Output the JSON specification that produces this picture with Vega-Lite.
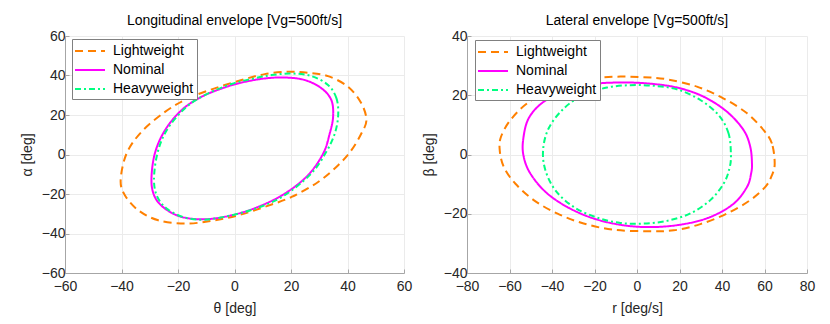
{
  "$schema": "https://vega.github.io/schema/vega-lite/v6.json",
  "padding": {"left": 20, "top": 14, "right": 5, "bottom": 5},
  "background": "white",
  "config": {
    "font": "Liberation Sans",
    "view": {"stroke": null},
    "axis": {
      "labelFont": "Liberation Sans", "labelFontSize": 14, "labelColor": "#262626", "labelFlush": false, "labelOverlap": false,
      "titleFont": "Liberation Sans", "titleFontSize": 14, "titleFontWeight": "normal", "titleColor": "#262626",
      "domainColor": "#a6a6a6", "tickColor": "#a6a6a6", "tickSize": -4,
      "gridColor": "#ebebeb", "gridOpacity": 1, "labelPadding": 4, "titlePadding": 7
    },
    "axisX": {"labelPadding": 10, "titlePadding": 8},
    "title": {"font": "Liberation Sans", "fontSize": 14, "fontWeight": "normal", "color": "#000000", "offset": 1},
    "legend": {
      "labelFont": "Liberation Sans", "labelFontSize": 14, "labelColor": "#000000",
      "strokeColor": "#808080", "fillColor": "white", "padding": 3, "rowPadding": 3,
      "symbolType": "M-1.875,0H1.875", "symbolSize": 256, "symbolStrokeWidth": 2, "symbolOffset": 6, "labelOffset": 14
    },
    "concat": {"spacing": 10}
  },
  "datasets": {
    "lon": [
      {"s": "Lightweight", "i": 0, "x": 46.7, "y": 17.4},
      {"s": "Lightweight", "i": 1, "x": 44.9, "y": 25.9},
      {"s": "Lightweight", "i": 2, "x": 40.2, "y": 34.3},
      {"s": "Lightweight", "i": 3, "x": 33.1, "y": 39.7},
      {"s": "Lightweight", "i": 4, "x": 26.0, "y": 41.4},
      {"s": "Lightweight", "i": 5, "x": 19.0, "y": 41.9},
      {"s": "Lightweight", "i": 6, "x": 10.7, "y": 40.7},
      {"s": "Lightweight", "i": 7, "x": 2.5, "y": 37.7},
      {"s": "Lightweight", "i": 8, "x": -7.0, "y": 33.5},
      {"s": "Lightweight", "i": 9, "x": -16.4, "y": 28.4},
      {"s": "Lightweight", "i": 10, "x": -24.6, "y": 21.6},
      {"s": "Lightweight", "i": 11, "x": -32.9, "y": 11.5},
      {"s": "Lightweight", "i": 12, "x": -38.2, "y": 0.5},
      {"s": "Lightweight", "i": 13, "x": -40.3, "y": -13.0},
      {"s": "Lightweight", "i": 14, "x": -38.8, "y": -20.6},
      {"s": "Lightweight", "i": 15, "x": -34.1, "y": -28.2},
      {"s": "Lightweight", "i": 16, "x": -27.0, "y": -33.3},
      {"s": "Lightweight", "i": 17, "x": -17.6, "y": -35.0},
      {"s": "Lightweight", "i": 18, "x": -8.1, "y": -33.6},
      {"s": "Lightweight", "i": 19, "x": 1.3, "y": -30.8},
      {"s": "Lightweight", "i": 20, "x": 10.7, "y": -26.5},
      {"s": "Lightweight", "i": 21, "x": 20.2, "y": -21.5},
      {"s": "Lightweight", "i": 22, "x": 29.6, "y": -13.9},
      {"s": "Lightweight", "i": 23, "x": 36.7, "y": -5.4},
      {"s": "Lightweight", "i": 24, "x": 41.4, "y": 2.2},
      {"s": "Lightweight", "i": 25, "x": 44.9, "y": 10.6},
      {"s": "Nominal", "i": 0, "x": 34.9, "y": 19.1},
      {"s": "Nominal", "i": 1, "x": 34.3, "y": 27.5},
      {"s": "Nominal", "i": 2, "x": 30.8, "y": 33.5},
      {"s": "Nominal", "i": 3, "x": 24.9, "y": 37.7},
      {"s": "Nominal", "i": 4, "x": 17.8, "y": 39.0},
      {"s": "Nominal", "i": 5, "x": 10.7, "y": 38.5},
      {"s": "Nominal", "i": 6, "x": 3.7, "y": 36.8},
      {"s": "Nominal", "i": 7, "x": -3.4, "y": 34.0},
      {"s": "Nominal", "i": 8, "x": -11.7, "y": 29.2},
      {"s": "Nominal", "i": 9, "x": -18.7, "y": 22.5},
      {"s": "Nominal", "i": 10, "x": -24.6, "y": 12.3},
      {"s": "Nominal", "i": 11, "x": -28.2, "y": 0.5},
      {"s": "Nominal", "i": 12, "x": -29.4, "y": -13.0},
      {"s": "Nominal", "i": 13, "x": -28.2, "y": -21.5},
      {"s": "Nominal", "i": 14, "x": -24.6, "y": -27.4},
      {"s": "Nominal", "i": 15, "x": -18.7, "y": -31.6},
      {"s": "Nominal", "i": 16, "x": -10.5, "y": -32.8},
      {"s": "Nominal", "i": 17, "x": -1.1, "y": -30.8},
      {"s": "Nominal", "i": 18, "x": 8.4, "y": -26.5},
      {"s": "Nominal", "i": 19, "x": 17.8, "y": -19.8},
      {"s": "Nominal", "i": 20, "x": 26.0, "y": -10.5},
      {"s": "Nominal", "i": 21, "x": 31.4, "y": 0.5},
      {"s": "Nominal", "i": 22, "x": 33.7, "y": 10.6},
      {"s": "Heavyweight", "i": 0, "x": 36.7, "y": 19.9},
      {"s": "Heavyweight", "i": 1, "x": 36.1, "y": 28.4},
      {"s": "Heavyweight", "i": 2, "x": 33.1, "y": 35.2},
      {"s": "Heavyweight", "i": 3, "x": 27.2, "y": 39.7},
      {"s": "Heavyweight", "i": 4, "x": 20.2, "y": 41.0},
      {"s": "Heavyweight", "i": 5, "x": 13.1, "y": 40.2},
      {"s": "Heavyweight", "i": 6, "x": 6.0, "y": 38.2},
      {"s": "Heavyweight", "i": 7, "x": -1.1, "y": 35.7},
      {"s": "Heavyweight", "i": 8, "x": -10.5, "y": 30.1},
      {"s": "Heavyweight", "i": 9, "x": -17.6, "y": 23.3},
      {"s": "Heavyweight", "i": 10, "x": -24.0, "y": 12.3},
      {"s": "Heavyweight", "i": 11, "x": -27.3, "y": 0.5},
      {"s": "Heavyweight", "i": 12, "x": -28.5, "y": -13.0},
      {"s": "Heavyweight", "i": 13, "x": -27.2, "y": -21.8},
      {"s": "Heavyweight", "i": 14, "x": -23.5, "y": -27.9},
      {"s": "Heavyweight", "i": 15, "x": -17.6, "y": -31.9},
      {"s": "Heavyweight", "i": 16, "x": -10.5, "y": -33.0},
      {"s": "Heavyweight", "i": 17, "x": -1.1, "y": -30.8},
      {"s": "Heavyweight", "i": 18, "x": 8.4, "y": -26.9},
      {"s": "Heavyweight", "i": 19, "x": 17.8, "y": -20.6},
      {"s": "Heavyweight", "i": 20, "x": 27.2, "y": -9.6},
      {"s": "Heavyweight", "i": 21, "x": 32.5, "y": 1.4},
      {"s": "Heavyweight", "i": 22, "x": 35.5, "y": 10.6}
    ],
    "lat": [
      {"s": "Lightweight", "i": 0, "x": 64.8, "y": -3.0},
      {"s": "Lightweight", "i": 1, "x": 63.5, "y": 3.7},
      {"s": "Lightweight", "i": 2, "x": 59.6, "y": 8.2},
      {"s": "Lightweight", "i": 3, "x": 51.8, "y": 13.9},
      {"s": "Lightweight", "i": 4, "x": 40.8, "y": 18.9},
      {"s": "Lightweight", "i": 5, "x": 28.2, "y": 22.9},
      {"s": "Lightweight", "i": 6, "x": 14.1, "y": 25.4},
      {"s": "Lightweight", "i": 7, "x": 3.1, "y": 26.1},
      {"s": "Lightweight", "i": 8, "x": -7.8, "y": 26.3},
      {"s": "Lightweight", "i": 9, "x": -18.8, "y": 25.9},
      {"s": "Lightweight", "i": 10, "x": -29.8, "y": 24.6},
      {"s": "Lightweight", "i": 11, "x": -40.8, "y": 21.7},
      {"s": "Lightweight", "i": 12, "x": -51.8, "y": 17.2},
      {"s": "Lightweight", "i": 13, "x": -59.6, "y": 11.6},
      {"s": "Lightweight", "i": 14, "x": -64.0, "y": 6.0},
      {"s": "Lightweight", "i": 15, "x": -64.6, "y": 1.5},
      {"s": "Lightweight", "i": 16, "x": -62.7, "y": -4.2},
      {"s": "Lightweight", "i": 17, "x": -57.3, "y": -9.8},
      {"s": "Lightweight", "i": 18, "x": -48.6, "y": -15.4},
      {"s": "Lightweight", "i": 19, "x": -37.6, "y": -19.9},
      {"s": "Lightweight", "i": 20, "x": -25.1, "y": -23.3},
      {"s": "Lightweight", "i": 21, "x": -11.0, "y": -25.4},
      {"s": "Lightweight", "i": 22, "x": 4.7, "y": -25.9},
      {"s": "Lightweight", "i": 23, "x": 17.3, "y": -25.6},
      {"s": "Lightweight", "i": 24, "x": 29.8, "y": -23.5},
      {"s": "Lightweight", "i": 25, "x": 42.4, "y": -19.9},
      {"s": "Lightweight", "i": 26, "x": 53.3, "y": -15.4},
      {"s": "Lightweight", "i": 27, "x": 60.4, "y": -10.9},
      {"s": "Lightweight", "i": 28, "x": 63.5, "y": -7.0},
      {"s": "Nominal", "i": 0, "x": 54.1, "y": -3.0},
      {"s": "Nominal", "i": 1, "x": 53.3, "y": 2.6},
      {"s": "Nominal", "i": 2, "x": 50.2, "y": 8.2},
      {"s": "Nominal", "i": 3, "x": 42.4, "y": 14.4},
      {"s": "Nominal", "i": 4, "x": 31.4, "y": 19.5},
      {"s": "Nominal", "i": 5, "x": 18.8, "y": 22.6},
      {"s": "Nominal", "i": 6, "x": 4.7, "y": 24.0},
      {"s": "Nominal", "i": 7, "x": -7.8, "y": 24.3},
      {"s": "Nominal", "i": 8, "x": -20.4, "y": 23.8},
      {"s": "Nominal", "i": 9, "x": -32.9, "y": 21.7},
      {"s": "Nominal", "i": 10, "x": -43.9, "y": 17.8},
      {"s": "Nominal", "i": 11, "x": -51.0, "y": 12.2},
      {"s": "Nominal", "i": 12, "x": -53.6, "y": 4.8},
      {"s": "Nominal", "i": 13, "x": -53.3, "y": -0.8},
      {"s": "Nominal", "i": 14, "x": -50.2, "y": -6.4},
      {"s": "Nominal", "i": 15, "x": -43.1, "y": -12.6},
      {"s": "Nominal", "i": 16, "x": -32.9, "y": -17.7},
      {"s": "Nominal", "i": 17, "x": -20.4, "y": -21.6},
      {"s": "Nominal", "i": 18, "x": -6.3, "y": -23.9},
      {"s": "Nominal", "i": 19, "x": 7.8, "y": -24.5},
      {"s": "Nominal", "i": 20, "x": 22.0, "y": -23.5},
      {"s": "Nominal", "i": 21, "x": 34.5, "y": -21.1},
      {"s": "Nominal", "i": 22, "x": 45.5, "y": -16.6},
      {"s": "Nominal", "i": 23, "x": 51.8, "y": -10.9},
      {"s": "Nominal", "i": 24, "x": 53.7, "y": -6.4},
      {"s": "Heavyweight", "i": 0, "x": 44.2, "y": -0.2},
      {"s": "Heavyweight", "i": 1, "x": 43.1, "y": 7.1},
      {"s": "Heavyweight", "i": 2, "x": 38.4, "y": 13.3},
      {"s": "Heavyweight", "i": 3, "x": 29.8, "y": 18.4},
      {"s": "Heavyweight", "i": 4, "x": 18.8, "y": 22.0},
      {"s": "Heavyweight", "i": 5, "x": 7.8, "y": 23.2},
      {"s": "Heavyweight", "i": 6, "x": -3.1, "y": 23.4},
      {"s": "Heavyweight", "i": 7, "x": -14.1, "y": 22.6},
      {"s": "Heavyweight", "i": 8, "x": -25.1, "y": 20.1},
      {"s": "Heavyweight", "i": 9, "x": -34.5, "y": 15.5},
      {"s": "Heavyweight", "i": 10, "x": -41.6, "y": 8.8},
      {"s": "Heavyweight", "i": 11, "x": -44.2, "y": 1.5},
      {"s": "Heavyweight", "i": 12, "x": -43.1, "y": -5.3},
      {"s": "Heavyweight", "i": 13, "x": -38.4, "y": -12.1},
      {"s": "Heavyweight", "i": 14, "x": -29.8, "y": -17.7},
      {"s": "Heavyweight", "i": 15, "x": -18.8, "y": -21.3},
      {"s": "Heavyweight", "i": 16, "x": -7.8, "y": -23.1},
      {"s": "Heavyweight", "i": 17, "x": 3.1, "y": -23.3},
      {"s": "Heavyweight", "i": 18, "x": 14.1, "y": -22.4},
      {"s": "Heavyweight", "i": 19, "x": 25.1, "y": -19.9},
      {"s": "Heavyweight", "i": 20, "x": 34.5, "y": -15.4},
      {"s": "Heavyweight", "i": 21, "x": 40.8, "y": -9.8},
      {"s": "Heavyweight", "i": 22, "x": 43.5, "y": -4.7}
    ]
  },
  "resolve": {"scale": {"color": "independent", "strokeDash": "independent"}, "legend": {"color": "independent", "strokeDash": "independent"}},
  "hconcat": [
    {
      "title": "Longitudinal envelope [Vg=500ft/s]",
      "width": 339, "height": 237,
      "data": {"name": "lon"},
      "mark": {"type": "line", "interpolate": "cardinal-closed", "strokeWidth": 2},
      "encoding": {
        "x": {"field": "x", "type": "quantitative", "title": "θ [deg]", "scale": {"domain": [-60, 60], "nice": false}, "axis": {"values": [-60, -40, -20, 0, 20, 40, 60]}},
        "y": {"field": "y", "type": "quantitative", "title": "α [deg]", "scale": {"domain": [-60, 60], "nice": false}, "axis": {"values": [-60, -40, -20, 0, 20, 40, 60]}},
        "detail": {"field": "s"},
        "order": {"field": "i", "type": "quantitative"},
        "color": {"field": "s", "type": "nominal", "title": null,
          "scale": {"domain": ["Lightweight", "Nominal", "Heavyweight"], "range": ["#ff8000", "#ff00ff", "#00ff80"]},
          "legend": {"orient": "none", "legendX": 7, "legendY": 3}},
        "strokeDash": {"field": "s", "type": "nominal", "title": null,
          "scale": {"domain": ["Lightweight", "Nominal", "Heavyweight"], "range": [[8, 5], [1, 0], [6, 3, 2, 3]]},
          "legend": {"orient": "none", "legendX": 7, "legendY": 3}}
      }
    },
    {
      "title": "Lateral envelope [Vg=500ft/s]",
      "width": 340, "height": 237,
      "data": {"name": "lat"},
      "mark": {"type": "line", "interpolate": "cardinal-closed", "strokeWidth": 2},
      "encoding": {
        "x": {"field": "x", "type": "quantitative", "title": "r [deg/s]", "scale": {"domain": [-80, 80], "nice": false}, "axis": {"values": [-80, -60, -40, -20, 0, 20, 40, 60, 80]}},
        "y": {"field": "y", "type": "quantitative", "title": "β [deg]", "scale": {"domain": [-40, 40], "nice": false}, "axis": {"values": [-40, -20, 0, 20, 40]}},
        "detail": {"field": "s"},
        "order": {"field": "i", "type": "quantitative"},
        "color": {"field": "s", "type": "nominal", "title": null,
          "scale": {"domain": ["Lightweight", "Nominal", "Heavyweight"], "range": ["#ff8000", "#ff00ff", "#00ff80"]},
          "legend": {"orient": "none", "legendX": 8, "legendY": 4}},
        "strokeDash": {"field": "s", "type": "nominal", "title": null,
          "scale": {"domain": ["Lightweight", "Nominal", "Heavyweight"], "range": [[8, 5], [1, 0], [6, 3, 2, 3]]},
          "legend": {"orient": "none", "legendX": 8, "legendY": 4}}
      }
    }
  ]
}
